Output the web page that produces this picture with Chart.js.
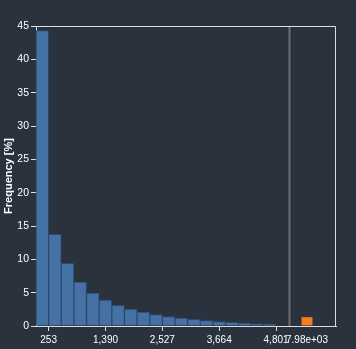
<!DOCTYPE html>
<html>
<head>
<title>Histogram</title>
<script src="https://cdn.jsdelivr.net/npm/chart.js@4/dist/chart.umd.min.js"></script>
<style>
html, body { margin: 0; padding: 0; background: #29323d; }
#wrap { width: 356px; height: 349px; }
</style>
</head>
<body>
<div id="wrap"><canvas id="chart"></canvas></div>

<script>
// bin edges (value units) and frequencies [%]
var binEdges = [0, 253, 505, 758, 1011, 1263, 1516, 1769, 2021, 2274, 2527,
                2780, 3032, 3285, 3538, 3790, 4043, 4296, 4548, 4801];
var frequencies = [44.3, 13.75, 9.4, 6.6, 4.95, 3.9, 3.1, 2.55, 2.1, 1.72,
                   1.42, 1.2, 1.0, 0.8, 0.68, 0.55, 0.43, 0.33, 0.27];
var xTickValues = [253, 1390, 2527, 3664, 4801];
var thresholdValue = 5054;
var overflowX = 5420;
var overflowLabel = '7.98e+03';
var overflowFreq = 1.35;
var yTicks = [0, 5, 10, 15, 20, 25, 30, 35, 40, 45];

var FONT = '"Liberation Sans", Arial, Helvetica, sans-serif';
var LINE = '#dddddd';

var barData = frequencies.map(function (f, i) {
    return { x: (binEdges[i] + binEdges[i + 1]) / 2, y: f };
});

var framePlugin = {
    id: 'frame',
    afterDatasetsDraw: function (chart) {
        var ctx = chart.ctx, a = chart.chartArea;
        var px = Math.round(chart.scales.x.getPixelForValue(thresholdValue)) + 0.5;
        ctx.save();
        ctx.strokeStyle = '#6b6f75';
        ctx.lineWidth = 2;
        ctx.beginPath();
        ctx.moveTo(px, a.top);
        ctx.lineTo(px, a.bottom);
        ctx.stroke();
        ctx.strokeStyle = LINE;
        ctx.lineWidth = 1;
        ctx.beginPath();
        ctx.moveTo(a.left, a.top + 0.5);
        ctx.lineTo(a.right - 0.5, a.top + 0.5);
        ctx.lineTo(a.right - 0.5, a.bottom);
        ctx.stroke();
        ctx.restore();
    }
};

new Chart(document.getElementById('chart'), {
    type: 'bar',
    data: {
        datasets: [{
            data: barData,
            backgroundColor: '#4571a5',
            borderColor: '#2c4b72',
            borderWidth: 1,
            barPercentage: 1,
            categoryPercentage: 1,
            grouped: false
        }, {
            data: [{ x: overflowX, y: overflowFreq }],
            backgroundColor: '#f5811f',
            borderColor: '#c8661a',
            borderWidth: 1,
            barThickness: 11,
            grouped: false
        }]
    },
    options: {
        responsive: true,
        maintainAspectRatio: false,
        animation: false,
        layout: { padding: { top: 26, right: 20, left: 0, bottom: 0 } },
        plugins: {
            legend: { display: false },
            tooltip: { enabled: false }
        },
        scales: {
            x: {
                type: 'linear',
                offset: false,
                min: 0,
                max: 6000,
                grid: {
                    offset: false,
                    drawOnChartArea: false,
                    tickLength: 5,
                    tickColor: function (c) {
                        return c.tick && c.tick.value === overflowX ? 'rgba(0,0,0,0)' : LINE;
                    }
                },
                border: { color: LINE, width: 1 },
                afterBuildTicks: function (scale) {
                    scale.ticks = xTickValues.concat([overflowX]).map(function (v) { return { value: v }; });
                },
                afterFit: function (scale) { scale.height = 23; },
                ticks: {
                    autoSkip: false,
                    maxRotation: 0,
                    padding: 3,
                    color: '#ffffff',
                    font: { family: FONT, size: 10 },
                    callback: function (v) {
                        return v === overflowX ? overflowLabel : v.toLocaleString('en-US');
                    }
                }
            },
            y: {
                min: 0,
                max: 45,
                grid: { drawOnChartArea: false, tickLength: 5, tickColor: LINE },
                border: { color: LINE, width: 1 },
                afterBuildTicks: function (scale) {
                    scale.ticks = yTicks.map(function (v) { return { value: v }; });
                },
                afterFit: function (scale) { scale.width = 36; },
                ticks: {
                    padding: 2,
                    color: '#ffffff',
                    font: { family: FONT, size: 10.5 }
                },
                title: {
                    display: true,
                    text: 'Frequency [%]',
                    color: '#ffffff',
                    padding: { top: 2, bottom: 0 },
                    font: { family: FONT, size: 11, weight: 'bold' }
                }
            }
        }
    },
    plugins: [framePlugin]
});
</script>
</body>
</html>
